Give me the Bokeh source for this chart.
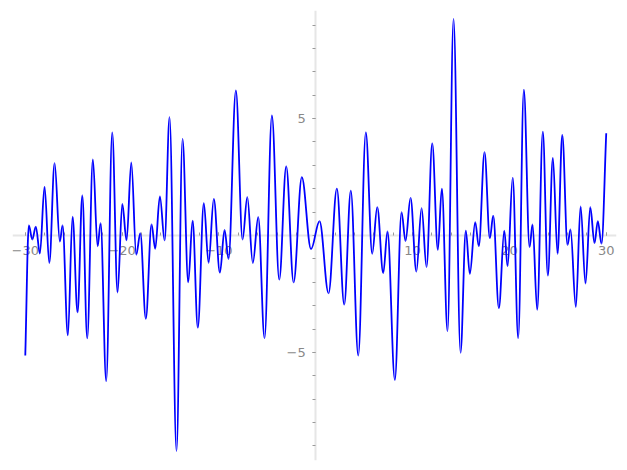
from bokeh.plotting import figure
from bokeh.models import Range1d, FixedTicker, ColumnDataSource, LinearAxis
from bokeh.embed import file_html
from bokeh.resources import INLINE

# curve: start, successive local extrema, end
xs = [-30.0, -29.63, -29.28, -28.91, -28.49, -28.01, -27.52, -26.97, -26.43, -26.15,
      -25.60, -25.12, -24.60, -24.11, -23.60, -23.02, -22.53, -22.22, -21.64, -21.02,
      -20.47, -19.98, -19.54, -19.05, -18.54, -18.12, -17.55, -16.96, -16.58, -16.10,
      -15.61, -15.10, -14.38, -13.76, -13.17, -12.72, -12.18, -11.56, -11.07, -10.53,
      -9.90, -9.42, -9.01, -8.25, -7.56, -7.07, -6.50, -5.94, -5.29, -4.53,
      -3.77, -3.05, -2.29, -1.44, -0.49, 0.39, 1.32, 2.18, 2.94, 3.62,
      4.39, 5.17, 5.83, 6.35, 6.97, 7.41, 8.17, 8.86, 9.27, 9.79,
      10.39, 10.93, 11.44, 12.03, 12.61, 13.02, 13.61, 14.23, 14.95, 15.50,
      15.91, 16.47, 16.84, 17.43, 17.98, 18.33, 18.91, 19.47, 19.81, 20.34,
      20.91, 21.49, 22.08, 22.39, 22.87, 23.45, 23.97, 24.49, 24.97, 25.46,
      26.00, 26.31, 26.86, 27.35, 27.86, 28.35, 28.79, 29.13, 29.51, 30.0]
ys = [-5.13, 0.43, -0.17, 0.38, -0.77, 2.09, -1.18, 3.09, -0.26, 0.43,
      -4.27, 0.81, -3.29, 1.71, -4.40, 3.25, -0.46, 0.53, -6.23, 4.41,
      -2.44, 1.35, -0.21, 3.13, -0.82, 0.10, -3.56, 0.47, -0.57, 1.67,
      -0.21, 5.06, -9.22, 4.13, -2.00, 0.64, -3.94, 1.38, -1.17, 1.57,
      -1.59, 0.24, -1.00, 6.20, -0.17, 1.64, -1.18, 0.78, -4.39, 5.13,
      -1.89, 2.95, -2.00, 2.49, -0.58, 0.61, -2.47, 2.00, -2.95, 1.92,
      -5.13, 4.41, -0.78, 1.21, -1.61, 0.17, -6.17, 1.00, -0.24, 1.61,
      -1.54, 1.17, -1.35, 3.94, -0.61, 2.00, -4.09, 9.26, -5.01, 0.21,
      -1.64, 0.57, -0.46, 3.56, -0.12, 0.85, -3.11, 0.21, -1.32, 2.47,
      -4.39, 6.24, -0.50, 0.47, -3.18, 4.44, -1.71, 3.32, -0.78, 4.30,
      -0.40, 0.26, -3.06, 1.24, -2.06, 1.21, -0.33, 0.61, -0.35, 4.37]

x_major = [-30, -20, -10, 10, 20, 30]
x_minor = list(range(-30, 31, 2))
y_major = [-5, 5]
y_minor = list(range(-9, 10))

# cubic Bezier segments with flat tangents at the extrema
K = 0.36
n = len(xs)
x0, y0, x1, y1, cx0, cy0, cx1, cy1 = [], [], [], [], [], [], [], []
for i in range(n - 1):
    dx = xs[i + 1] - xs[i]
    dy = ys[i + 1] - ys[i]
    x0.append(xs[i]); y0.append(ys[i]); x1.append(xs[i + 1]); y1.append(ys[i + 1])
    cx0.append(xs[i] + K * dx)
    cy0.append(ys[i] + (K * dy if i == 0 else 0))
    cx1.append(xs[i + 1] - K * dx)
    cy1.append(ys[i + 1] - (K * dy if i + 1 == n - 1 else 0))

src = ColumnDataSource(dict(x0=x0, y0=y0, x1=x1, y1=y1, cx0=cx0, cy0=cy0, cx1=cx1, cy1=cy1))

p = figure(width=618, height=462, output_backend="svg", toolbar_location=None,
           x_range=Range1d(-31.32, 31.06), y_range=Range1d(-9.62, 9.62),
           min_border_left=12, min_border_right=2, min_border_top=10, min_border_bottom=2,
           x_axis_location=None, y_axis_location=None)
p.outline_line_color = None
p.grid.visible = False

xa = LinearAxis(fixed_location=0)
ya = LinearAxis(fixed_location=0)
p.add_layout(xa, "below")
p.add_layout(ya, "left")

xa.ticker = FixedTicker(ticks=x_major, minor_ticks=x_minor)
ya.ticker = FixedTicker(ticks=y_major, minor_ticks=y_minor)
xa.major_label_overrides = {t: str(t).replace("-", "\u2212") for t in x_major}
ya.major_label_overrides = {t: str(t).replace("-", "\u2212") for t in y_major}

for ax in (xa, ya):
    ax.axis_line_color = "#e6e6e6"
    ax.axis_line_width = 2
    ax.major_tick_line_color = "#9a9a9a"
    ax.minor_tick_line_color = "#9a9a9a"
    ax.major_label_text_color = "#888888"
    ax.major_label_text_font = "DejaVu Sans"
    ax.major_label_text_font_size = "13px"
    ax.level = "underlay"
xa.major_tick_in = 3
xa.major_tick_out = 0
xa.minor_tick_in = 3
xa.minor_tick_out = 0
xa.major_label_standoff = 10
ya.major_tick_in = 0
ya.major_tick_out = 3
ya.minor_tick_in = 0
ya.minor_tick_out = 3
ya.major_label_standoff = 7

p.bezier(x0="x0", y0="y0", x1="x1", y1="y1", cx0="cx0", cy0="cy0", cx1="cx1", cy1="cy1",
         source=src, line_color="#0000ff", line_width=1.8)

open("out.html", "w").write(file_html(p, INLINE))
